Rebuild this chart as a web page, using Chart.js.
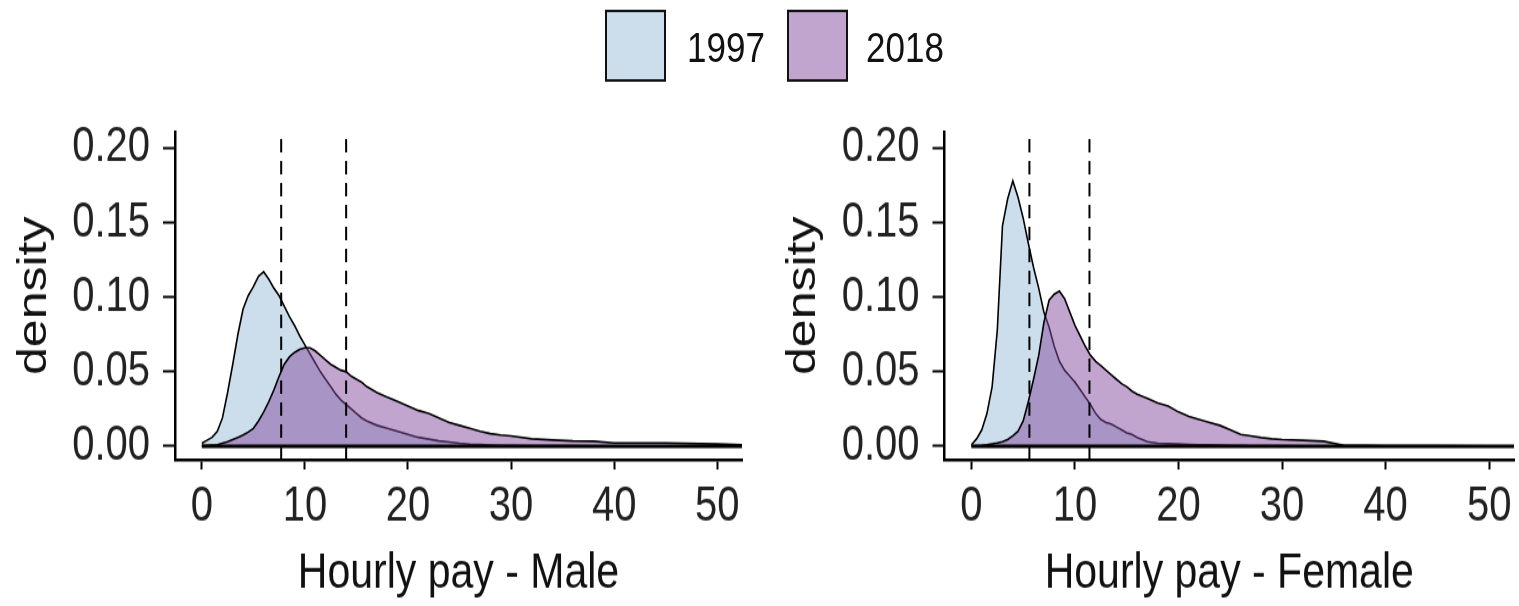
<!DOCTYPE html>
<html>
<head>
<meta charset="utf-8">
<script src="https://cdn.jsdelivr.net/npm/chart.js@4.4.1/dist/chart.umd.min.js"></script>
<style>
  html, body { margin: 0; padding: 0; background: #fff; }
  #stage {
    position: absolute; left: 0; top: 0;
    width: 1519px; height: 497px;
    transform: scaleY(1.2193); transform-origin: 0 0;
    font-family: "Liberation Sans", Arial, sans-serif;
  }
  .panel { position: absolute; top: 0; }
  .key { position: absolute; top: 8px; width: 57px; height: 55px; border: 2px solid #111; }
  .lbl { position: absolute; top: 9px; line-height: 59px; font-size: 35px; color: #111; }
</style>
</head>
<body>
<div id="stage">
  <div class="key" style="left:605px; background: rgba(153,187,217,0.5);"></div>
  <div class="lbl" style="left:687px;">1997</div>
  <div class="key" style="left:787px; background: rgba(133,75,159,0.5);"></div>
  <div class="lbl" style="left:866px;">2018</div>
  <canvas id="male" class="panel" style="left:0px;" width="760" height="497"></canvas>
  <canvas id="female" class="panel" style="left:760px;" width="759" height="497"></canvas>
</div>
<script>
// hourly pay grid (x) shared by all density curves
const payGrid = [0, 0.5, 1, 1.5, 2, 2.5, 3, 3.5, 4, 4.5, 5, 5.5, 6, 6.5, 7, 7.5, 8, 8.5,
  9, 9.5, 10, 10.5, 11, 11.5, 12, 12.5, 13, 13.5, 14, 14.5, 15, 15.5, 16,
  17, 18, 19, 20, 21, 22, 23, 24, 25, 26, 27, 28, 29, 30,
  32, 34, 36, 38, 40, 45, 50, 52.4];

const male1997 = [0.002, 0.004, 0.006, 0.010, 0.019, 0.036, 0.055, 0.075, 0.092, 0.101, 0.107, 0.114, 0.117, 0.112, 0.106, 0.101, 0.094, 0.087,
  0.081, 0.074, 0.068, 0.062, 0.056, 0.050, 0.045, 0.040, 0.035, 0.031, 0.028, 0.025, 0.022, 0.019, 0.017,
  0.014, 0.012, 0.010, 0.008, 0.006, 0.0048, 0.0036, 0.0028, 0.002, 0.0014, 0.0011, 0.0008, 0.0006, 0.0005,
  0.0004, 0.0003, 0.0003, 0.0002, 0.0002, 0.0001, 0.0001, 0];
const male2018 = [0.0005, 0.0006, 0.0008, 0.001, 0.002, 0.003, 0.0045, 0.006, 0.0075, 0.0095, 0.012, 0.017, 0.023, 0.030, 0.038, 0.047, 0.055, 0.060,
  0.063, 0.065, 0.066, 0.066, 0.064, 0.061, 0.058, 0.055, 0.053, 0.051, 0.050, 0.047, 0.045, 0.043, 0.040,
  0.036, 0.033, 0.030, 0.027, 0.024, 0.022, 0.019, 0.016, 0.014, 0.012, 0.010, 0.0085, 0.0075, 0.007,
  0.005, 0.0042, 0.0036, 0.0034, 0.0023, 0.0023, 0.0015, 0.001];
const female1997 = [0.001, 0.005, 0.011, 0.022, 0.040, 0.078, 0.148, 0.166, 0.178, 0.167, 0.153, 0.136, 0.120, 0.106, 0.090, 0.080, 0.067, 0.057,
  0.051, 0.047, 0.043, 0.038, 0.033, 0.028, 0.022, 0.018, 0.016, 0.015, 0.013, 0.011, 0.009, 0.008, 0.006,
  0.003, 0.002, 0.0017, 0.0015, 0.0012, 0.001, 0.0009, 0.0008, 0.0006, 0.0005, 0.0004, 0.0004, 0.0003, 0.0003,
  0.0002, 0.0002, 0.0002, 0.0002, 0.0002, 0.0001, 0.0001, 0];
const female2018 = [0.0003, 0.0004, 0.0006, 0.001, 0.0016, 0.0022, 0.003, 0.0045, 0.007, 0.010, 0.017, 0.030, 0.045, 0.061, 0.083, 0.098, 0.102, 0.104,
  0.099, 0.090, 0.081, 0.074, 0.067, 0.061, 0.057, 0.054, 0.051, 0.048, 0.045, 0.042, 0.040, 0.037, 0.035,
  0.032, 0.029, 0.027, 0.023, 0.020, 0.018, 0.016, 0.014, 0.011, 0.008, 0.007, 0.0058, 0.005, 0.0045,
  0.004, 0.0034, 0.0006, 0.0005, 0.0004, 0.0003, 0.0002, 0.0001];

// dashed reference lines (1997, 2018)
const maleMedians = [7.7, 14.0];
const femaleMedians = [5.6, 11.4];

const xTicks = [0, 10, 20, 30, 40, 50];
const yTicks = [0, 0.05, 0.10, 0.15, 0.20];
const xMin = -2.6, xMax = 52.4;
const yMin = -0.009, yMax = 0.211;

const fill1997 = 'rgba(153,187,217,0.5)';
const fill2018 = 'rgba(133,75,159,0.5)';

function toPoints(ys) {
  return payGrid.map((x, i) => ({ x: x, y: ys[i] }));
}

function makePanel(id, yWidth, padRight, d1997, d2018, medians, title) {
  const ctx = document.getElementById(id).getContext('2d');
  const datasets = [
    { label: '1997', data: toPoints(d1997), backgroundColor: fill1997, borderColor: '#000',
      borderWidth: 1.6, fill: 'origin', pointRadius: 0, tension: 0, order: 4 },
    { label: '2018', data: toPoints(d2018), backgroundColor: fill2018, borderColor: '#000',
      borderWidth: 1.6, fill: 'origin', pointRadius: 0, tension: 0, order: 3 },
    // bottom edge of the density polygons
    { data: [{ x: payGrid[0], y: 0 }, { x: payGrid[payGrid.length - 1], y: 0 }], borderColor: '#000',
      borderWidth: 3, pointRadius: 0, fill: false, order: 2 }
  ];
  medians.forEach((m) => {
    datasets.push({ data: [{ x: m, y: yMin }, { x: m, y: yMax }], borderColor: '#000',
      borderWidth: 2, borderDash: [11, 7], pointRadius: 0, fill: false, order: 1 });
  });
  return new Chart(ctx, {
    type: 'line',
    data: { datasets: datasets },
    options: {
      responsive: false,
      animation: false,
      layout: { padding: { top: 108, right: padRight, left: 0, bottom: 0 } },
      plugins: { legend: { display: false }, tooltip: { enabled: false } },
      scales: {
        x: {
          type: 'linear', min: xMin, max: xMax,
          afterBuildTicks: (s) => { s.ticks = xTicks.map((v) => ({ value: v })); },
          afterFit: (s) => { s.height = 120; },
          border: { display: true, color: '#000', width: 2.5 },
          grid: { display: true, drawOnChartArea: false, drawTicks: true, tickLength: 8, tickWidth: 2, tickColor: '#000' },
          ticks: { color: '#222', padding: 7, maxRotation: 0, font: { family: 'Liberation Sans', size: 40 },
            callback: (v) => String(v) },
          title: { display: true, text: title, color: '#111', padding: { top: 0, bottom: 2 },
            font: { family: 'Liberation Sans', size: 41 } }
        },
        y: {
          min: yMin, max: yMax,
          afterBuildTicks: (s) => { s.ticks = yTicks.map((v) => ({ value: v })); },
          afterFit: (s) => { s.width = yWidth; },
          border: { display: true, color: '#000', width: 2.5 },
          grid: { display: true, drawOnChartArea: false, drawTicks: true, tickLength: 12, tickWidth: 2, tickColor: '#000' },
          ticks: { color: '#222', padding: 13, font: { family: 'Liberation Sans', size: 40 },
            callback: (v) => Number(v).toFixed(2) },
          title: { display: true, text: 'density', color: '#111', padding: { top: 10 + (yWidth - 175), bottom: 0 },
            font: { family: 'Liberation Sans', size: 41 } }
        }
      }
    }
  });
}

makePanel('male', 175, 18, male1997, male2018, maleMedians, 'Hourly pay - Male');
makePanel('female', 184.5, 5, female1997, female2018, femaleMedians, 'Hourly pay - Female');
</script>
</body>
</html>
